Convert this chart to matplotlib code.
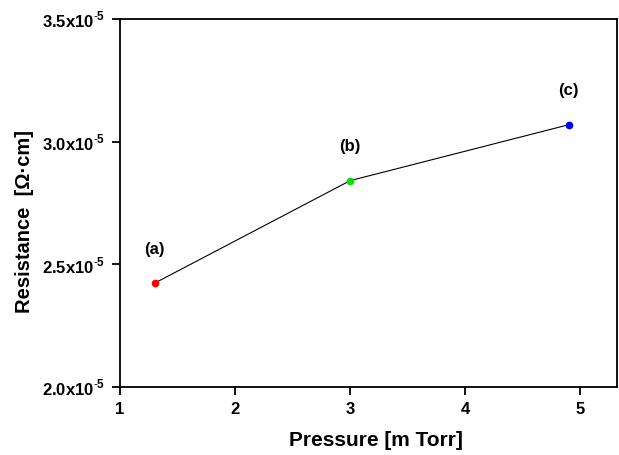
import matplotlib
matplotlib.use('Agg')
import matplotlib.pyplot as plt
from matplotlib.ticker import FuncFormatter

plt.rcParams['font.family'] = ['Liberation Sans', 'DejaVu Sans']
plt.rcParams['mathtext.fontset'] = 'custom'
plt.rcParams['mathtext.rm'] = 'Liberation Sans'
plt.rcParams['mathtext.bf'] = 'Liberation Sans:bold'

pressure = [1.3, 3.0, 4.9]
resistance = [2.423e-5, 2.841e-5, 3.069e-5]
labels = ['(a)', '(b)', '(c)']
colors = ['#ff0000', '#00e000', '#0000ff']


def sci_fmt(v, pos):
    m = v / 1e-5
    return r'$\mathbf{%.1fx10}^{\mathbf{\text{-}5}}$' % m


fig = plt.figure(figsize=(6.19, 4.55), dpi=100)
ax = fig.add_axes([0.1939, 0.1495, 0.803, 0.8088])

ax.plot(pressure, resistance, color='black', lw=0.8, zorder=1)
for x, y, c, t in zip(pressure, resistance, colors, labels):
    ax.plot(x, y, 'o', color=c, ms=4.5, zorder=2)
    ax.annotate(t, (x, y), xytext=(0, 19), textcoords='offset points',
                ha='center', va='bottom', fontsize=12, fontweight='bold')

ax.set_xlim(1, 5.32)
ax.set_ylim(2.0e-5, 3.5e-5)
ax.set_xticks([1, 2, 3, 4, 5])
ax.set_yticks([2.0e-5, 2.5e-5, 3.0e-5, 3.5e-5])
ax.yaxis.set_major_formatter(FuncFormatter(sci_fmt))

for s in ax.spines.values():
    s.set_linewidth(1.3)
ax.tick_params(direction='out', length=6, width=1.3, labelsize=12, pad=5)
for lab in ax.get_xticklabels():
    lab.set_fontweight('bold')

ax.set_xlabel('Pressure [m Torr]', fontsize=15, fontweight='bold')
ax.set_ylabel('Resistance  [\u03a9\u00b7cm]', fontsize=14.5, fontweight='bold')
ax.xaxis.set_label_coords(0.515, -0.12)
ax.yaxis.set_label_coords(-0.174, 0.451)

fig.savefig('out.png', dpi=100)
